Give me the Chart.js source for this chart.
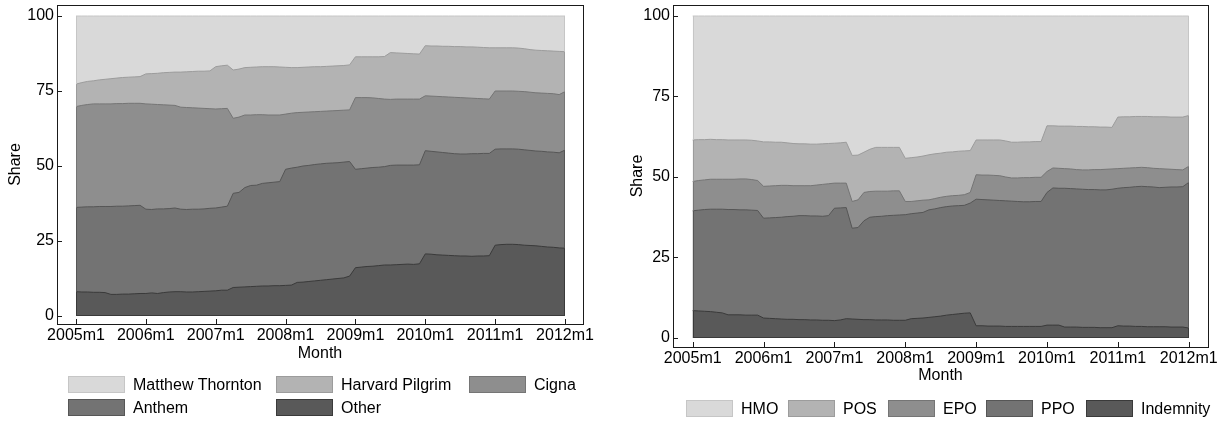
<!DOCTYPE html>
<html>
<head>
<meta charset="utf-8">
<script src="https://cdn.jsdelivr.net/npm/chart.js@4.4.1/dist/chart.umd.min.js"></script>
<style>
  html, body { margin: 0; padding: 0; background: #ffffff; }
  body { width: 1222px; height: 421px; position: relative; overflow: hidden;
         font-family: "Liberation Sans", Arial, Helvetica, sans-serif; }
  canvas { position: absolute; top: 0; }
  #insurers { left: 0; }
  #plans { left: 610px; }
  .key { position: absolute; display: flex; align-items: center; font-size: 16px;
         color: #000; white-space: nowrap; line-height: 17px; }
  .key .swatch { display: inline-block; box-sizing: border-box; height: 17px;
                 border: 1px solid; margin-right: 8px; }
</style>
</head>
<body>
<canvas id="insurers" width="610" height="421"></canvas>
<canvas id="plans" width="612" height="421"></canvas>
<div id="keys"></div>
<script>
// Monthly cumulative market shares (%), 2005m1 .. 2012m1 (85 months).
// Each array is the upper edge of its band: everything below it is included.

// ---- Insurers ----
const cumOther = [
  8.1, 8.0, 8.0, 7.9, 7.9, 7.8, 7.2, 7.2, 7.3, 7.3, 7.4, 7.5,
  7.5, 7.7, 7.5, 7.8, 8.0, 8.1, 8.1, 8.0, 8.0, 8.1, 8.2, 8.3,
  8.4, 8.6, 8.6, 9.5, 9.6, 9.7, 9.8, 9.9, 10.0, 10.0, 10.1, 10.1,
  10.2, 10.3, 11.2, 11.3, 11.5, 11.7, 11.9, 12.1, 12.3, 12.5, 12.7, 13.3,
  16.1, 16.3, 16.5, 16.6, 16.8, 17.0, 17.0, 17.1, 17.2, 17.3, 17.2, 17.4,
  20.7, 20.6, 20.4, 20.3, 20.2, 20.1, 20.0, 20.0, 19.9, 20.0, 20.0, 20.1,
  23.6, 23.8, 23.9, 23.9, 23.8, 23.6, 23.5, 23.4, 23.2, 23.0, 22.9, 22.7,
  22.6
];
const cumAnthem = [
  36.2, 36.3, 36.4, 36.4, 36.5, 36.5, 36.5, 36.6, 36.6, 36.7, 36.8, 36.9,
  35.6, 35.5, 35.7, 35.7, 35.8, 36.0, 35.6, 35.5, 35.6, 35.6, 35.7, 35.9,
  36.0, 36.3, 36.6, 40.9, 41.2, 42.8, 43.5, 43.6, 44.2, 44.4, 44.6, 44.8,
  48.9, 49.3, 49.6, 50.0, 50.2, 50.5, 50.7, 50.9, 51.0, 51.1, 51.3, 51.5,
  48.9, 49.1, 49.3, 49.5, 49.6, 49.8, 50.2, 50.3, 50.3, 50.3, 50.3, 50.4,
  55.1, 54.9, 54.7, 54.5, 54.3, 54.1, 54.0, 54.0, 54.1, 54.1, 54.2, 54.2,
  55.6, 55.7, 55.7, 55.7, 55.6, 55.4, 55.2, 55.0, 54.9, 54.7, 54.6, 54.4,
  55.3
];
const cumCigna = [
  69.8, 70.2, 70.5, 70.7, 70.7, 70.7, 70.7, 70.8, 70.8, 70.9, 70.9, 70.9,
  70.7, 70.6, 70.5, 70.4, 70.3, 70.2, 69.6, 69.5, 69.4, 69.3, 69.2, 69.1,
  69.0, 69.1, 69.2, 65.9, 66.3, 67.0, 67.0, 67.1, 67.1, 67.0, 67.0, 67.0,
  67.3, 67.6, 67.8, 67.9, 68.0, 68.1, 68.2, 68.3, 68.4, 68.5, 68.6, 68.7,
  72.8, 72.8, 72.8, 72.7, 72.5, 72.3, 72.2, 72.3, 72.3, 72.3, 72.3, 72.3,
  73.4, 73.3, 73.2, 73.1, 73.0, 72.9, 72.8, 72.7, 72.6, 72.5, 72.4, 72.3,
  75.0, 75.0, 75.0, 75.0, 74.9, 74.8, 74.6, 74.4, 74.3, 74.2, 74.1, 73.8,
  74.8
];
const cumHarvard = [
  77.3, 77.8, 78.2, 78.4, 78.7, 78.9, 79.1, 79.3, 79.5, 79.6, 79.7, 79.8,
  80.7, 80.8, 80.9, 81.1, 81.2, 81.3, 81.3, 81.4, 81.5, 81.6, 81.6, 81.7,
  83.1, 83.4, 83.6, 82.0, 82.3, 82.8, 82.9, 83.0, 83.1, 83.1, 83.1, 83.0,
  82.9, 82.8, 82.8, 82.9, 83.0, 83.1, 83.1, 83.2, 83.3, 83.4, 83.5, 83.7,
  86.4, 86.4, 86.4, 86.4, 86.4, 86.5, 87.8, 87.7, 87.6, 87.5, 87.4, 87.3,
  90.1, 90.0, 90.0, 89.9, 89.9, 89.8, 89.8, 89.7, 89.7, 89.6, 89.5, 89.4,
  89.4, 89.4, 89.4, 89.4, 89.3, 89.1, 88.8, 88.6, 88.5, 88.4, 88.3, 88.2,
  88.1
];
const cumThornton = [
  100, 100, 100, 100, 100, 100, 100, 100, 100, 100, 100, 100,
  100, 100, 100, 100, 100, 100, 100, 100, 100, 100, 100, 100,
  100, 100, 100, 100, 100, 100, 100, 100, 100, 100, 100, 100,
  100, 100, 100, 100, 100, 100, 100, 100, 100, 100, 100, 100,
  100, 100, 100, 100, 100, 100, 100, 100, 100, 100, 100, 100,
  100, 100, 100, 100, 100, 100, 100, 100, 100, 100, 100, 100,
  100, 100, 100, 100, 100, 100, 100, 100, 100, 100, 100, 100,
  100
];

// ---- Plan types ----
const cumIndemnity = [
  8.5, 8.4, 8.3, 8.2, 8.0, 7.8, 7.2, 7.2, 7.2, 7.1, 7.1, 7.1,
  6.2, 6.1, 6.0, 5.9, 5.8, 5.8, 5.7, 5.7, 5.6, 5.6, 5.5, 5.5,
  5.4, 5.6, 6.0, 5.9, 5.8, 5.7, 5.7, 5.6, 5.6, 5.6, 5.5, 5.5,
  5.5, 6.0, 6.1, 6.2, 6.4, 6.6, 6.8, 7.1, 7.3, 7.5, 7.7, 7.8,
  3.8, 3.8, 3.7, 3.7, 3.7, 3.6, 3.6, 3.6, 3.6, 3.6, 3.6, 3.6,
  4.0, 4.0, 4.0, 3.4, 3.4, 3.4, 3.3, 3.3, 3.3, 3.2, 3.2, 3.2,
  3.8, 3.7, 3.7, 3.6, 3.6, 3.5, 3.5, 3.5, 3.5, 3.4, 3.4, 3.4,
  3.1
];
const cumPPO = [
  39.5, 39.7, 39.9, 40.0, 40.0, 40.0, 39.9, 39.9, 39.8, 39.8, 39.7, 39.6,
  37.2, 37.3, 37.4, 37.5, 37.7, 37.8, 38.0, 38.0, 37.9, 37.9, 37.8, 38.0,
  40.3, 40.4, 40.5, 34.1, 34.3, 36.4, 37.5, 37.7, 37.8, 38.0, 38.1, 38.2,
  38.3, 38.6, 38.8, 39.0, 39.8, 40.1, 40.5, 40.8, 41.0, 41.1, 41.2, 41.9,
  43.1, 43.0, 42.9, 42.8, 42.7, 42.6, 42.5, 42.4, 42.3, 42.3, 42.4, 42.4,
  45.2, 46.6, 46.5, 46.5, 46.4, 46.3, 46.2, 46.1, 46.1, 46.0, 46.0, 46.2,
  46.5, 46.7, 46.8, 47.0, 47.1, 47.0, 46.9, 46.7, 46.8, 46.9, 46.9, 47.0,
  48.3
];
const cumEPO = [
  48.6, 48.9, 49.1, 49.3, 49.3, 49.3, 49.3, 49.3, 49.4, 49.4, 49.2, 48.9,
  47.1, 47.2, 47.3, 47.4, 47.4, 47.3, 47.3, 47.3, 47.3, 47.5, 47.7, 47.9,
  48.1, 48.1, 48.1, 42.4, 42.9, 45.2, 45.5, 45.6, 45.6, 45.6, 45.7, 45.7,
  42.4, 42.4, 42.6, 42.8, 42.9, 43.3, 43.7, 44.0, 44.2, 44.3, 44.5, 45.2,
  50.7, 50.6, 50.6, 50.5, 50.4, 50.0, 49.7, 49.7, 49.8, 49.8, 49.9, 49.9,
  51.7, 52.8, 52.7, 52.6, 52.5, 52.3, 52.2, 52.2, 52.3, 52.3, 52.4, 52.5,
  52.6, 52.7, 52.8, 52.9, 53.0, 52.9, 52.7, 52.6, 52.5, 52.4, 52.3, 52.2,
  53.3
];
const cumPOS = [
  61.5, 61.6, 61.6, 61.7, 61.6, 61.6, 61.5, 61.5, 61.5, 61.5, 61.4, 61.2,
  60.9, 60.9, 60.8, 60.8, 60.6, 60.4, 60.3, 60.3, 60.2, 60.2, 60.3, 60.4,
  60.5, 60.6, 60.8, 56.7, 56.8, 57.7, 58.6, 59.2, 59.2, 59.2, 59.2, 59.2,
  55.8, 56.0, 56.2, 56.5, 56.9, 57.2, 57.4, 57.7, 57.8, 58.0, 58.1, 58.2,
  61.5, 61.5, 61.5, 61.5, 61.5, 61.2, 60.8, 60.8, 60.9, 60.9, 61.0, 61.0,
  65.9, 65.9, 65.8, 65.8, 65.8, 65.7, 65.7, 65.6, 65.6, 65.5, 65.5, 65.4,
  68.6, 68.7, 68.7, 68.8, 68.8, 68.8, 68.7, 68.7, 68.7, 68.6, 68.6, 68.6,
  69.1
];
const cumHMO = [
  100, 100, 100, 100, 100, 100, 100, 100, 100, 100, 100, 100,
  100, 100, 100, 100, 100, 100, 100, 100, 100, 100, 100, 100,
  100, 100, 100, 100, 100, 100, 100, 100, 100, 100, 100, 100,
  100, 100, 100, 100, 100, 100, 100, 100, 100, 100, 100, 100,
  100, 100, 100, 100, 100, 100, 100, 100, 100, 100, 100, 100,
  100, 100, 100, 100, 100, 100, 100, 100, 100, 100, 100, 100,
  100, 100, 100, 100, 100, 100, 100, 100, 100, 100, 100, 100,
  100
];

// Axis ticks
const xTickValues = [0, 12, 24, 36, 48, 60, 72, 84];   // months since 2005m1
const xTickLabels = ['2005m1', '2006m1', '2007m1', '2008m1', '2009m1', '2010m1', '2011m1', '2012m1'];
const yTickValues = [0, 25, 50, 75, 100];
const yTickLabels = ['0', '25', '50', '75', '100'];

// Series names, top band first (legend order)
const insurerNames = ['Matthew Thornton', 'Harvard Pilgrim', 'Cigna', 'Anthem', 'Other'];
const planNames = ['HMO', 'POS', 'EPO', 'PPO', 'Indemnity'];

// ---- Styling ----
const FONT = { family: '"Liberation Sans", Arial, Helvetica, sans-serif', size: 16 };
const fills   = ['#d9d9d9', '#b3b3b3', '#8e8e8e', '#737373', '#595959'];
const outlines = ['#c6c6c6', '#9c9c9c', '#757575', '#565656', '#3a3a3a'];
const TICK_LEN = 5;

// Box around the plot region, inward tick marks, and the side/bottom edges of each band
const framePlugin = {
  id: 'stataFrame',
  afterDatasetsDraw(chart) {
    const { ctx, chartArea: a, scales: { x, y } } = chart;
    ctx.save();
    ctx.lineWidth = 1;
    // band edges: widest band first so narrower bands end up on top
    const dsCount = chart.data.datasets.length;
    for (let d = dsCount - 1; d >= 0; d--) {
      const ds = chart.data.datasets[d];
      const pts = ds.data;
      const first = pts[0], last = pts[pts.length - 1];
      const y0 = y.getPixelForValue(0);
      ctx.strokeStyle = ds.borderColor;
      ctx.beginPath();
      const xl = Math.round(x.getPixelForValue(first.x)) + 0.5;
      const xr = Math.round(x.getPixelForValue(last.x)) - 0.5;
      ctx.moveTo(xl, y0);
      ctx.lineTo(xl, y.getPixelForValue(first.y));
      ctx.moveTo(xr, y0);
      ctx.lineTo(xr, y.getPixelForValue(last.y));
      ctx.moveTo(xl, Math.round(y0) - 0.5);
      ctx.lineTo(xr, Math.round(y0) - 0.5);
      ctx.stroke();
    }
    // frame
    ctx.strokeStyle = '#1a1a1a';
    ctx.strokeRect(a.left + 0.5, a.top + 0.5, a.right - a.left, a.bottom - a.top);
    // inward ticks
    ctx.beginPath();
    xTickValues.forEach(v => {
      const px = Math.round(x.getPixelForValue(v)) + 0.5;
      ctx.moveTo(px, a.bottom);
      ctx.lineTo(px, a.bottom - TICK_LEN);
    });
    yTickValues.forEach(v => {
      const py = Math.round(y.getPixelForValue(v)) + 0.5;
      ctx.moveTo(a.left, py);
      ctx.lineTo(a.left + TICK_LEN, py);
    });
    ctx.stroke();
    ctx.restore();
  }
};

function buildPanel(canvasId, names, series, geo) {
  const datasets = names.map((name, k) => ({
    label: name,
    data: series[k].map((v, i) => ({ x: i, y: v })),
    backgroundColor: fills[k],
    borderColor: outlines[k],
    borderWidth: 1,
    fill: 'origin',
    pointRadius: 0,
    pointHoverRadius: 0,
    tension: 0
  })).reverse();   // narrowest cumulative band is drawn last, on top

  return new Chart(document.getElementById(canvasId), {
    type: 'line',
    data: { datasets },
    options: {
      responsive: false,
      animation: false,
      devicePixelRatio: 1,
      events: [],
      layout: { padding: geo.padding },
      plugins: { legend: { display: false }, tooltip: { enabled: false } },
      scales: {
        x: {
          type: 'linear',
          min: geo.xMin, max: geo.xMax,
          afterBuildTicks: s => { s.ticks = xTickValues.map(v => ({ value: v })); },
          afterFit: s => { s.height = geo.xHeight; s.paddingLeft = 0; s.paddingRight = 0; },
          grid: { display: false, drawTicks: false },
          border: { display: false },
          ticks: {
            color: '#000', font: FONT, padding: geo.xPad, maxRotation: 0, autoSkip: false,
            callback: (v, i) => xTickLabels[i]
          },
          title: { display: true, text: 'Month', color: '#000', font: FONT, padding: { top: 0, bottom: 0 } }
        },
        y: {
          type: 'linear',
          min: geo.yMin, max: geo.yMax,
          afterBuildTicks: s => { s.ticks = yTickValues.map(v => ({ value: v })); },
          afterFit: s => { s.width = geo.yWidth; s.paddingTop = 0; s.paddingBottom = 0; },
          grid: { display: false, drawTicks: false },
          border: { display: false },
          ticks: {
            color: '#000', font: FONT, padding: geo.yPad,
            callback: (v, i) => yTickLabels[i]
          },
          title: { display: true, text: 'Share', color: '#000', font: FONT, padding: { top: geo.yTitlePad, bottom: 0 } }
        }
      }
    },
    plugins: [framePlugin]
  });
}

buildPanel('insurers', insurerNames,
  [cumThornton, cumHarvard, cumCigna, cumAnthem, cumOther],
  { padding: { left: 0, right: 27, top: 5, bottom: 58 },
    xMin: -3.264, xMax: 87.092, yMin: -2.667, yMax: 103.667,
    xHeight: 39, yWidth: 57, xPad: 2, yPad: 3, yTitlePad: 6 });

buildPanel('plans', planNames,
  [cumHMO, cumPOS, cumEPO, cumPPO, cumIndemnity],
  { padding: { left: 0, right: 14, top: 5, bottom: 36 },
    xMin: -3.336, xMax: 87.268, yMin: -2.795, yMax: 103.416,
    xHeight: 38, yWidth: 63, xPad: 2, yPad: 3, yTitlePad: 18.4 });

// Legends (HTML, real text)
const keyLayout = [
  // insurers: two rows, three columns
  { names: insurerNames, slots: [[68, 376], [276, 376], [469, 376], [68, 399], [276, 399]], w: 57 },
  // plan types: one row
  { names: planNames, slots: [[686, 400], [788, 400], [888, 400], [986, 400], [1086, 400]], w: 47 }
];
const keys = document.getElementById('keys');
keyLayout.forEach(group => {
  group.names.forEach((name, k) => {
    const el = document.createElement('div');
    el.className = 'key';
    el.style.left = group.slots[k][0] + 'px';
    el.style.top = group.slots[k][1] + 'px';
    const sw = document.createElement('span');
    sw.className = 'swatch';
    sw.style.width = group.w + 'px';
    sw.style.background = fills[k];
    sw.style.borderColor = outlines[k];
    el.appendChild(sw);
    el.appendChild(document.createTextNode(name));
    keys.appendChild(el);
  });
});
</script>
</body>
</html>
